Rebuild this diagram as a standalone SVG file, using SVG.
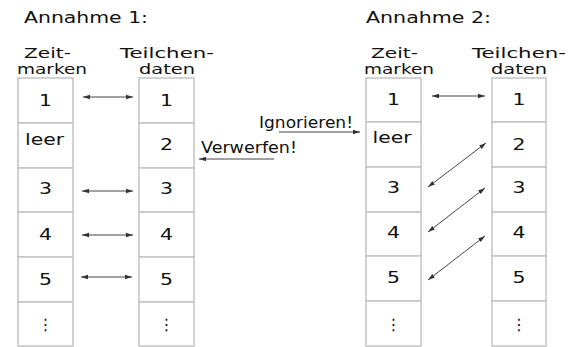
<svg xmlns="http://www.w3.org/2000/svg" width="568" height="347" viewBox="0 0 568 347">
<style>
text{font-family:"DejaVu Sans","Liberation Sans",sans-serif;font-size:16px;fill:#111;}
.m{font-size:15px;}
.hd{font-size:14px;}
.c{text-anchor:middle;}
.box{fill:#fff;stroke:#c4c4c4;stroke-width:1.5;}
.ar{stroke:#444;stroke-width:1;fill:none;marker-start:url(#h);marker-end:url(#h);}
.a1{stroke:#444;stroke-width:1;fill:none;marker-end:url(#h);}
</style>
<defs>
<marker id="h" markerUnits="userSpaceOnUse" markerWidth="8" markerHeight="6" refX="7" refY="3" orient="auto-start-reverse" viewBox="0 0 8 6">
<path d="M0,0.8 L7,3 L0,5.2 Z" fill="#333"/>
</marker>
</defs>
<rect width="568" height="347" fill="#fff"/>

<g id="titel1"><text x="24" y="22.7" textLength="124" lengthAdjust="spacingAndGlyphs">Annahme 1:</text></g>
<g id="titel2"><text x="366" y="22.7" textLength="125" lengthAdjust="spacingAndGlyphs">Annahme 2:</text></g>

<g id="kopf-zeit1"><text class="hd" x="24" y="57.5" textLength="47" lengthAdjust="spacingAndGlyphs">Zeit-</text><text class="hd" x="17" y="74" textLength="70" lengthAdjust="spacingAndGlyphs">marken</text></g>
<g id="kopf-teil1"><text class="hd" x="120" y="57.5" textLength="94" lengthAdjust="spacingAndGlyphs">Teilchen-</text><text class="hd" x="139" y="74" textLength="56" lengthAdjust="spacingAndGlyphs">daten</text></g>
<g id="kopf-zeit2"><text class="hd" x="371" y="57.5" textLength="47" lengthAdjust="spacingAndGlyphs">Zeit-</text><text class="hd" x="364" y="74" textLength="70" lengthAdjust="spacingAndGlyphs">marken</text></g>
<g id="kopf-teil2"><text class="hd" x="472" y="57.5" textLength="94" lengthAdjust="spacingAndGlyphs">Teilchen-</text><text class="hd" x="491" y="74" textLength="56" lengthAdjust="spacingAndGlyphs">daten</text></g>

<g id="zeitmarken1">
<rect class="box" x="18" y="78" width="55" height="45"/>
<rect class="box" x="18" y="123" width="55" height="45"/>
<rect class="box" x="18" y="168" width="55" height="44"/>
<rect class="box" x="18" y="212" width="55" height="45"/>
<rect class="box" x="18" y="257" width="55" height="45"/>
<rect class="box" x="18" y="302" width="55" height="44"/>
<text class="c" x="45.5" y="106" textLength="13" lengthAdjust="spacingAndGlyphs">1</text>
<text x="25" y="145" textLength="39" lengthAdjust="spacingAndGlyphs">leer</text>
<text class="c" x="45.5" y="194" textLength="13" lengthAdjust="spacingAndGlyphs">3</text>
<text class="c" x="45.5" y="240" textLength="13" lengthAdjust="spacingAndGlyphs">4</text>
<text class="c" x="45.5" y="285" textLength="13" lengthAdjust="spacingAndGlyphs">5</text>
<text class="c" x="45.5" y="330">⋮</text>
</g>
<g id="teilchendaten1">
<rect class="box" x="139" y="78" width="55" height="45"/>
<rect class="box" x="139" y="123" width="55" height="45"/>
<rect class="box" x="139" y="168" width="55" height="44"/>
<rect class="box" x="139" y="212" width="55" height="45"/>
<rect class="box" x="139" y="257" width="55" height="45"/>
<rect class="box" x="139" y="302" width="55" height="44"/>
<text class="c" x="166.5" y="106" textLength="13" lengthAdjust="spacingAndGlyphs">1</text>
<text class="c" x="166.5" y="150" textLength="13" lengthAdjust="spacingAndGlyphs">2</text>
<text class="c" x="166.5" y="194" textLength="13" lengthAdjust="spacingAndGlyphs">3</text>
<text class="c" x="166.5" y="240" textLength="13" lengthAdjust="spacingAndGlyphs">4</text>
<text class="c" x="166.5" y="285" textLength="13" lengthAdjust="spacingAndGlyphs">5</text>
<text class="c" x="166.5" y="330">⋮</text>
</g>
<g id="zeitmarken2">
<rect class="box" x="366" y="78" width="55" height="44"/>
<rect class="box" x="366" y="122" width="55" height="45"/>
<rect class="box" x="366" y="167" width="55" height="45"/>
<rect class="box" x="366" y="212" width="55" height="44"/>
<rect class="box" x="366" y="256" width="55" height="45"/>
<rect class="box" x="366" y="301" width="55" height="45"/>
<text class="c" x="393.5" y="105" textLength="13" lengthAdjust="spacingAndGlyphs">1</text>
<text x="372.5" y="143" textLength="39" lengthAdjust="spacingAndGlyphs">leer</text>
<text class="c" x="393.5" y="193" textLength="13" lengthAdjust="spacingAndGlyphs">3</text>
<text class="c" x="393.5" y="238" textLength="13" lengthAdjust="spacingAndGlyphs">4</text>
<text class="c" x="393.5" y="283" textLength="13" lengthAdjust="spacingAndGlyphs">5</text>
<text class="c" x="393.5" y="330">⋮</text>
</g>
<g id="teilchendaten2">
<rect class="box" x="492" y="78" width="54" height="44"/>
<rect class="box" x="492" y="122" width="54" height="45"/>
<rect class="box" x="492" y="167" width="54" height="45"/>
<rect class="box" x="492" y="212" width="54" height="44"/>
<rect class="box" x="492" y="256" width="54" height="45"/>
<rect class="box" x="492" y="301" width="54" height="45"/>
<text class="c" x="519" y="105" textLength="13" lengthAdjust="spacingAndGlyphs">1</text>
<text class="c" x="519" y="150" textLength="13" lengthAdjust="spacingAndGlyphs">2</text>
<text class="c" x="519" y="193" textLength="13" lengthAdjust="spacingAndGlyphs">3</text>
<text class="c" x="519" y="238" textLength="13" lengthAdjust="spacingAndGlyphs">4</text>
<text class="c" x="519" y="283" textLength="13" lengthAdjust="spacingAndGlyphs">5</text>
<text class="c" x="519" y="330">⋮</text>
</g>

<g id="labels">
<text class="m" x="259" y="127.7" textLength="94" lengthAdjust="spacingAndGlyphs">Ignorieren!</text>
<text class="m" x="201" y="153" textLength="96" lengthAdjust="spacingAndGlyphs">Verwerfen!</text>
</g>

<g id="connectors">
<line class="ar" x1="83" y1="97" x2="133" y2="97"/>
<line class="ar" x1="82" y1="191" x2="133" y2="191"/>
<line class="ar" x1="82" y1="235" x2="133" y2="235"/>
<line class="ar" x1="81" y1="277" x2="132" y2="277"/>
<line class="a1" x1="279" y1="132" x2="360" y2="132"/>
<line class="a1" x1="274" y1="159" x2="199" y2="159"/>
<line class="ar" x1="432" y1="96" x2="485" y2="96"/>
<line class="ar" x1="428" y1="187" x2="486" y2="143"/>
<line class="ar" x1="428" y1="232" x2="485" y2="188"/>
<line class="ar" x1="428" y1="280" x2="485" y2="236"/>
</g>
</svg>
